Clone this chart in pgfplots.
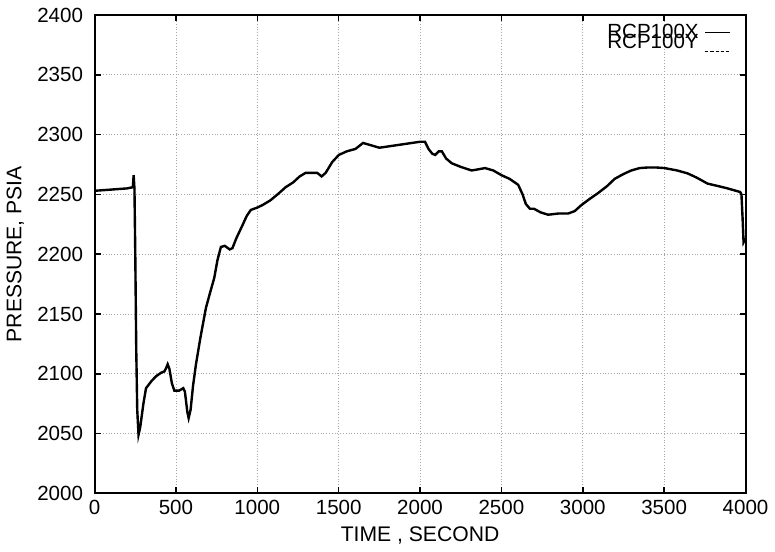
\documentclass[border=0pt]{standalone}
\usepackage{pgfplots}
\pgfplotsset{compat=1.18}
\usepackage{pgfplotstable}
\usepackage{fontspec}
\setmainfont{Liberation Sans}
\pgfplotstableread{
x y
0 2253
50 2253.5
100 2254
150 2254.5
200 2255
235 2256
240 2266
245 2255
250 2200
256 2120
262 2070
270 2049
280 2055
300 2075
316 2088
350 2094
378 2098
410 2101
429 2102
440 2105
449 2108
460 2104
475 2092
490 2086
520 2086
545 2088
555 2085
570 2068
578 2063
590 2070
605 2090
623 2108
650 2130
684 2155
710 2168
735 2180
755 2195
776 2206
800 2207
830 2204
847 2205
870 2213
908 2224
935 2232
960 2237
1000 2239
1031 2241
1080 2245
1133 2251
1174 2256
1220 2260
1260 2265
1297 2268
1340 2268
1368 2268
1395 2265
1420 2268
1460 2277
1501 2283
1550 2286
1603 2288
1650 2293
1700 2291
1750 2289
1800 2290
1850 2291
1900 2292
1950 2293
2000 2294
2030 2294
2052 2288
2075 2284
2093 2283
2115 2286
2134 2286
2160 2280
2195 2276
2250 2273
2317 2270
2360 2271
2399 2272
2450 2270
2501 2266
2550 2263
2603 2258
2630 2250
2650 2242
2675 2238
2700 2238
2740 2235
2787 2233
2850 2234
2910 2234
2950 2236
2991 2241
3040 2246
3093 2251
3150 2257
3196 2263
3250 2267
3298 2270
3350 2272
3400 2272.5
3450 2272.5
3502 2272
3580 2270
3645 2267.5
3700 2264
3767 2259
3830 2257
3890 2255
3967 2252
3975 2250
3982 2230
3988 2210
3995 2212
4000 2213
}\datatable
\begin{document}
\begin{tikzpicture}
\begin{axis}[
  scale only axis,
  width=326.5pt, height=240pt,
  xmin=0, xmax=4000, ymin=2000, ymax=2400,
  xtick={0,500,...,4000},
  ytick={2000,2050,...,2400},
  tick align=inside,
  major tick length=3pt,
  xtick pos=both, ytick pos=both,
  grid=major,
  major grid style={densely dotted, gray!70, line width=0.4pt},
  axis line style={line width=1pt},
  every tick/.style={line width=0.8pt, black},
  scaled ticks=false,
  /pgf/number format/.cd, assume math mode=true, 1000 sep={},
  /pgfplots/.cd,
  tick label style={font=\fontsize{10.3}{12}\selectfont},
  yticklabel style={xshift=-2.3pt},
  label style={font=\fontsize{10.6}{12}\selectfont},
  xlabel={TIME , SECOND},
  ylabel={PRESSURE, PSIA},
  xlabel style={at={(axis description cs:0.5,-0.0885)}, anchor=center},
  ylabel style={at={(axis description cs:-0.1217,0.5)}, anchor=center},
  legend style={draw=none, fill=none, at={(1,1)}, xshift=-7.5pt, yshift=-4.5pt,
    anchor=north east, inner sep=0pt, outer sep=0pt,
    nodes={inner xsep=3pt, inner ysep=0pt},
    font=\fontsize{10.3}{10}\selectfont, row sep=-3.5pt},
  legend cell align=right,
  legend plot pos=right,
  legend image code/.code={\draw[#1] (0pt,0pt) -- (12.5pt,0pt);},
]
\addplot[black, line width=1.2pt, legend image post style={line width=0.5pt}] table[x=x,y=y]{\datatable};
\addlegendentry{RCP100X}
\addplot[black, line width=0.6pt, dash pattern=on 1.6pt off 1pt, legend image post style={yshift=-4.5pt, line width=0.5pt}] table[x=x,y=y]{\datatable};
\addlegendentry{RCP100Y}
\end{axis}
\path[use as bounding box] (current axis.south west) ++(-47pt,-28pt) rectangle ([xshift=14pt,yshift=7.5pt]current axis.north east);
\end{tikzpicture}
\end{document}
